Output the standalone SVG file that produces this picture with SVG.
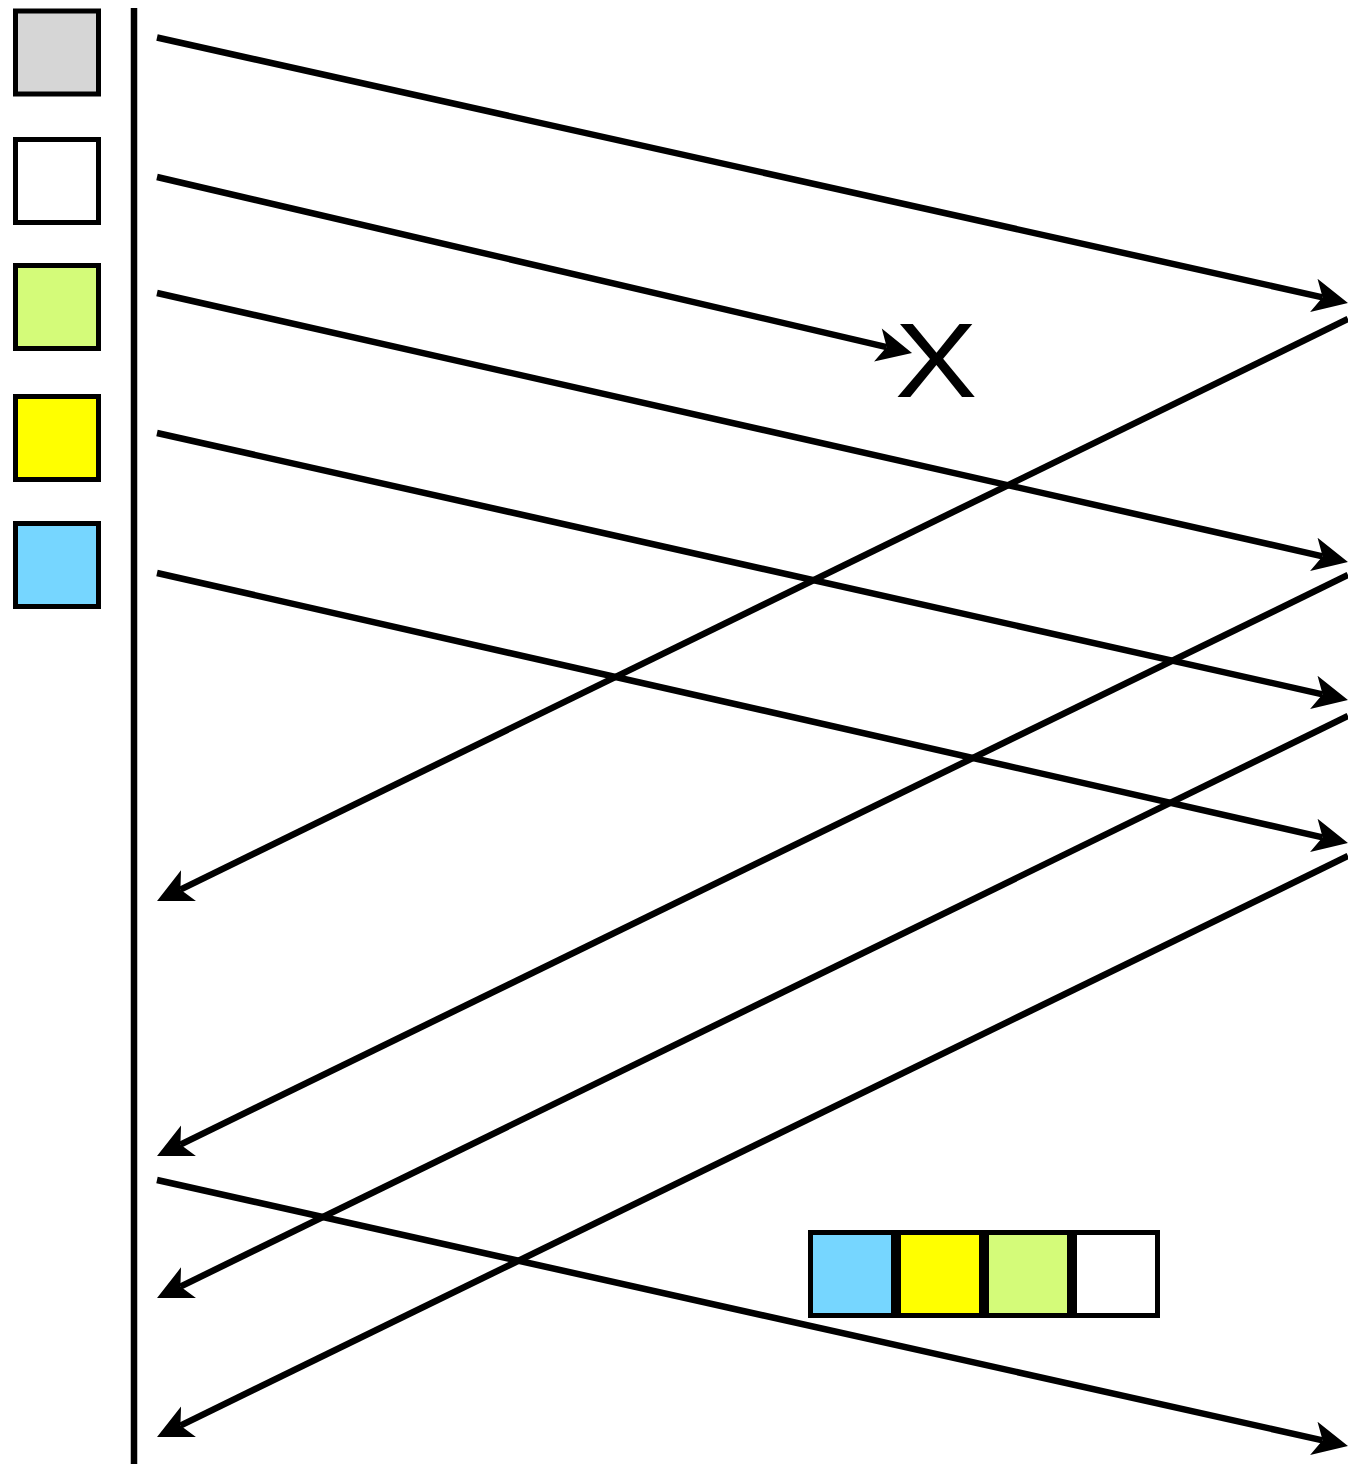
<svg xmlns="http://www.w3.org/2000/svg" width="1348" height="1464" viewBox="0 0 1348 1464">
<style>
.box{stroke:#000;stroke-width:5}
.ln{stroke:#000;stroke-width:6.5;fill:none}
.arr{marker-end:url(#ah)}
.lbl{font-family:"Liberation Sans",Arial,sans-serif;font-size:105px;fill:#000}
</style>
<defs>
<marker id="ah" markerUnits="userSpaceOnUse" orient="auto" refX="0" refY="0" markerWidth="40" markerHeight="40" overflow="visible">
<path d="M26,0 L-9,-17 L0,0 L-9,17 Z" fill="#000"/>
</marker>
</defs>
<rect width="1348" height="1464" fill="#fff"/>
<g id="legend">
<g id="box-gray"><rect class="box" x="15.5" y="11" width="83" height="83" fill="#d6d6d6"/></g>
<g id="box-white"><rect class="box" x="15.5" y="139.5" width="83" height="83" fill="#fff"/></g>
<g id="box-green"><rect class="box" x="15.5" y="265.5" width="83" height="83" fill="#d4fb79"/></g>
<g id="box-yellow"><rect class="box" x="15.5" y="396.5" width="83" height="83" fill="#ffff00"/></g>
<g id="box-blue"><rect class="box" x="15.5" y="523.5" width="83" height="83" fill="#76d6ff"/></g>
</g>
<g id="timeline"><line class="ln" x1="134" y1="8" x2="134" y2="1464"/></g>
<g id="lost"><text class="lbl" transform="translate(936,397) scale(1.18,1)" x="0" y="0" text-anchor="middle">X</text></g>
<g id="buffer">
<rect class="box" x="810.5" y="1232.5" width="83" height="83" fill="#76d6ff"/>
<rect class="box" x="898.5" y="1232.5" width="83" height="83" fill="#ffff00"/>
<rect class="box" x="986.5" y="1232.5" width="83" height="83" fill="#d4fb79"/>
<rect class="box" x="1074.5" y="1232.5" width="83" height="83" fill="#fff"/>
</g>
<g id="connectors">
<line class="ln arr" x1="157" y1="37.5" x2="1322.6" y2="297.3"/>
<line class="ln arr" x1="157" y1="177" x2="886.7" y2="347.1"/>
<line class="ln arr" x1="157" y1="293" x2="1322.6" y2="556.3"/>
<line class="ln arr" x1="157" y1="433" x2="1322.6" y2="694.3"/>
<line class="ln arr" x1="157" y1="573" x2="1322.6" y2="837.3"/>
<line class="ln arr" x1="1348" y1="319" x2="180.4" y2="889.6"/>
<line class="ln arr" x1="1348" y1="575" x2="180.4" y2="1144.6"/>
<line class="ln arr" x1="1348" y1="716" x2="180.4" y2="1286.6"/>
<line class="ln arr" x1="1348" y1="856" x2="180.4" y2="1425.6"/>
<line class="ln arr" x1="157" y1="1180" x2="1322.6" y2="1440.3"/>
</g>
</svg>
